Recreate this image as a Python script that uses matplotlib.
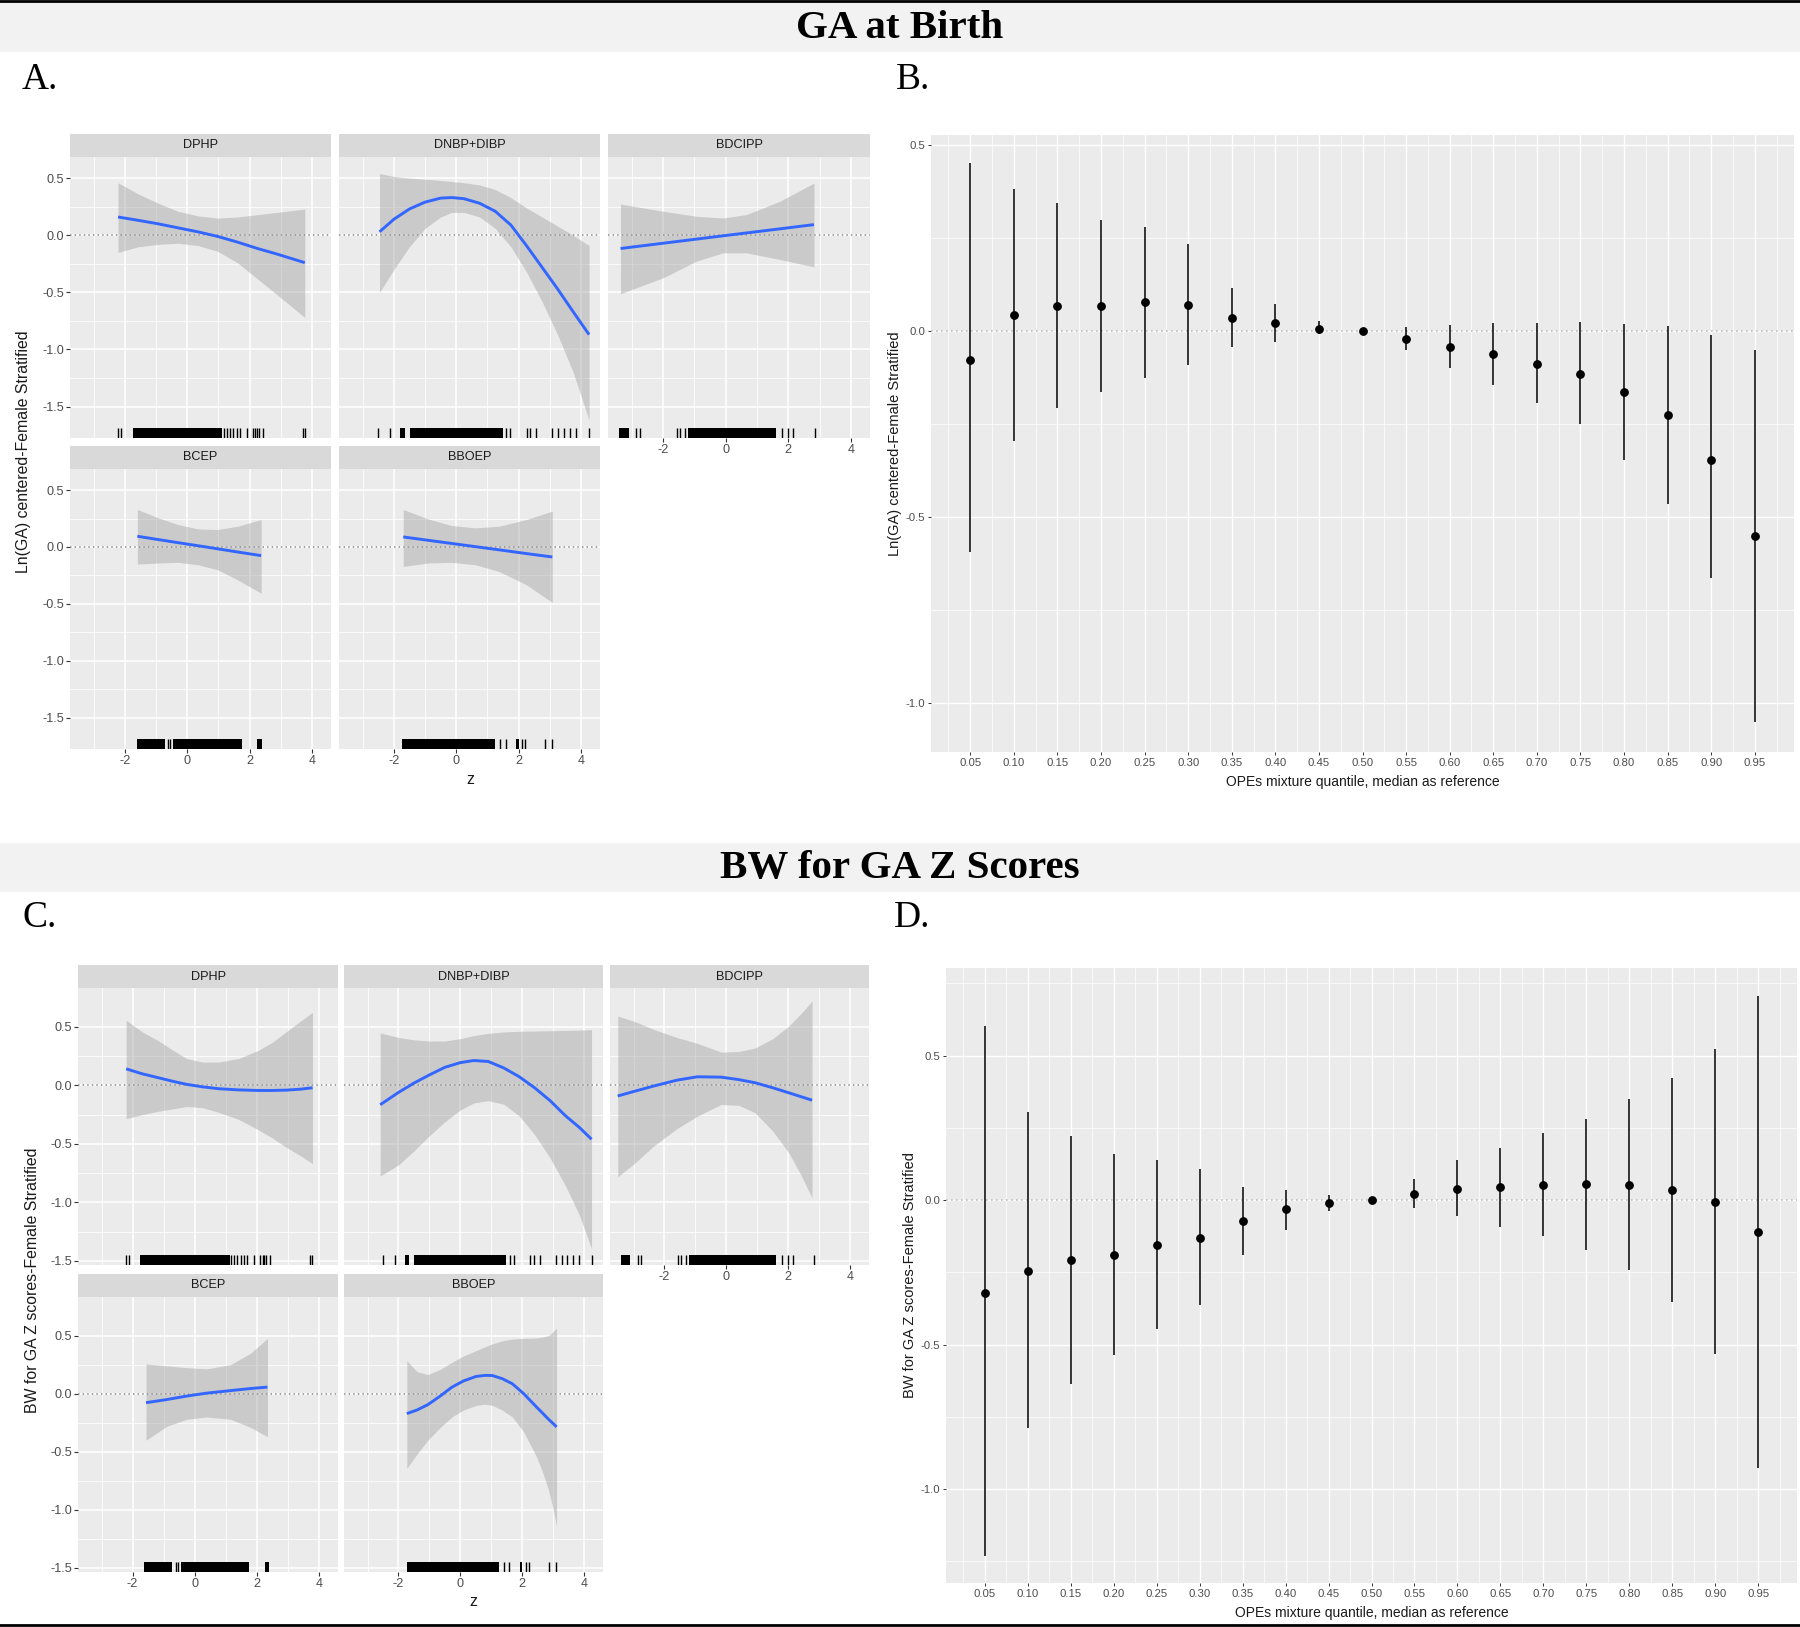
import matplotlib
matplotlib.use("Agg")
import matplotlib.pyplot as plt
from matplotlib.patches import Rectangle
from matplotlib.lines import Line2D
import numpy as np

# ── Data: panel A (GA at birth, univariate exposure-response) ────────────────

A_DPHP_X   = [-2.22, -1.56, -0.93, -0.30, 0.34, 0.97, 1.61, 2.24, 2.88, 3.77]
A_DPHP_FIT = [0.16, 0.13, 0.10, 0.065, 0.03, -0.01, -0.06, -0.115, -0.165, -0.24]
A_DPHP_HI  = [0.46, 0.36, 0.28, 0.21, 0.17, 0.15, 0.16, 0.18, 0.20, 0.23]
A_DPHP_LO  = [-0.15, -0.10, -0.08, -0.07, -0.09, -0.14, -0.24, -0.38, -0.52, -0.72]

A_DNBP_X   = [-2.46, -2.0, -1.5, -1.0, -0.5, -0.15, 0.25, 0.75, 1.25, 1.75,
              2.25, 2.75, 3.25, 3.75, 4.26]
A_DNBP_FIT = [0.03, 0.14, 0.23, 0.29, 0.325, 0.33, 0.32, 0.28, 0.21, 0.09,
              -0.09, -0.28, -0.47, -0.67, -0.87]
A_DNBP_HI  = [0.54, 0.515, 0.50, 0.49, 0.48, 0.47, 0.46, 0.44, 0.40, 0.33,
              0.24, 0.16, 0.08, 0.00, -0.09]
A_DNBP_LO  = [-0.50, -0.30, -0.10, 0.06, 0.16, 0.20, 0.20, 0.16, 0.06, -0.10,
              -0.32, -0.58, -0.87, -1.20, -1.62]

A_BDCIPP_X   = [-3.36, -2.0, -0.94, -0.085, 0.66, 1.73, 2.82]
A_BDCIPP_FIT = [-0.116, -0.07, -0.034, -0.005, 0.02, 0.056, 0.093]
A_BDCIPP_HI  = [0.273, 0.21, 0.166, 0.151, 0.181, 0.297, 0.457]
A_BDCIPP_LO  = [-0.512, -0.373, -0.227, -0.154, -0.154, -0.212, -0.277]

A_BCEP_X   = [-1.60, -0.93, -0.30, 0.34, 0.97, 1.61, 2.37]
A_BCEP_FIT = [0.094, 0.065, 0.038, 0.011, -0.016, -0.044, -0.076]
A_BCEP_HI  = [0.33, 0.256, 0.197, 0.159, 0.153, 0.182, 0.241]
A_BCEP_LO  = [-0.15, -0.141, -0.135, -0.156, -0.20, -0.288, -0.406]

A_BBOEP_X   = [-1.70, -0.91, -0.15, 0.61, 1.37, 2.25, 3.08]
A_BBOEP_FIT = [0.088, 0.059, 0.031, 0.003, -0.025, -0.058, -0.088]
A_BBOEP_HI  = [0.329, 0.247, 0.188, 0.168, 0.182, 0.241, 0.315]
A_BBOEP_LO  = [-0.171, -0.141, -0.135, -0.156, -0.215, -0.332, -0.488]

# ── Data: panel C (BW for GA z scores) ────────────────────────────────────────

C_DPHP_X   = [-2.21, -1.7, -1.16, -0.7, -0.26, 0.25, 0.77, 1.41, 2.05, 2.5,
              2.95, 3.4, 3.79]
C_DPHP_FIT = [0.142, 0.10, 0.065, 0.035, 0.009, -0.012, -0.028, -0.038, -0.043,
              -0.043, -0.04, -0.032, -0.02]
C_DPHP_HI  = [0.557, 0.46, 0.38, 0.30, 0.23, 0.20, 0.20, 0.23, 0.30, 0.37,
              0.46, 0.55, 0.625]
C_DPHP_LO  = [-0.284, -0.25, -0.22, -0.20, -0.18, -0.19, -0.23, -0.29, -0.38,
              -0.45, -0.53, -0.60, -0.668]

C_DNBP_X   = [-2.59, -2.0, -1.5, -1.0, -0.5, 0.0, 0.43, 0.9, 1.4, 1.9, 2.4,
              2.9, 3.4, 3.85, 4.24]
C_DNBP_FIT = [-0.165, -0.06, 0.02, 0.09, 0.155, 0.195, 0.213, 0.205, 0.15,
              0.075, -0.02, -0.13, -0.26, -0.36, -0.46]
C_DNBP_HI  = [0.449, 0.41, 0.39, 0.38, 0.38, 0.40, 0.426, 0.445, 0.457, 0.463,
              0.465, 0.468, 0.47, 0.473, 0.477]
C_DNBP_LO  = [-0.773, -0.68, -0.56, -0.43, -0.31, -0.21, -0.15, -0.13, -0.16,
              -0.26, -0.42, -0.62, -0.86, -1.11, -1.398]

C_BDCIPP_X   = [-3.51, -2.9, -2.36, -1.6, -0.94, -0.17, 0.4, 0.93, 1.5, 2.02,
                2.4, 2.77]
C_BDCIPP_FIT = [-0.09, -0.045, -0.006, 0.045, 0.074, 0.071, 0.05, 0.023, -0.02,
                -0.063, -0.095, -0.126]
C_BDCIPP_HI  = [0.594, 0.54, 0.48, 0.41, 0.36, 0.285, 0.29, 0.32, 0.40, 0.508,
                0.61, 0.722]
C_BDCIPP_LO  = [-0.782, -0.65, -0.52, -0.37, -0.263, -0.163, -0.17, -0.234,
                -0.39, -0.577, -0.76, -0.962]

C_BCEP_X   = [-1.57, -0.90, -0.26, 0.38, 1.15, 1.80, 2.34]
C_BCEP_FIT = [-0.077, -0.05, -0.02, 0.005, 0.027, 0.045, 0.057]
C_BCEP_HI  = [0.257, 0.24, 0.225, 0.214, 0.25, 0.35, 0.477]
C_BCEP_LO  = [-0.40, -0.28, -0.22, -0.20, -0.22, -0.29, -0.37]

C_BBOEP_X   = [-1.73, -1.4, -1.05, -0.65, -0.27, 0.1, 0.51, 0.8, 1.03, 1.35,
               1.68, 2.05, 2.46, 2.65, 2.85, 2.98, 3.11]
C_BBOEP_FIT = [-0.171, -0.14, -0.094, -0.02, 0.057, 0.11, 0.149, 0.158, 0.157,
               0.13, 0.086, 0.0, -0.114, -0.165, -0.22, -0.252, -0.286]
C_BBOEP_HI  = [0.286, 0.19, 0.165, 0.21, 0.271, 0.325, 0.371, 0.405, 0.429,
               0.455, 0.471, 0.477, 0.48, 0.488, 0.50, 0.53, 0.566]
C_BBOEP_LO  = [-0.643, -0.52, -0.40, -0.29, -0.20, -0.14, -0.10, -0.09, -0.10,
               -0.14, -0.20, -0.33, -0.543, -0.67, -0.829, -0.97, -1.143]

# ── Data: rug marks (same exposures in A and C) ──────────────────────────────

DPHP_RUG_TICKS   = [-2.22, -2.12, 1.18, 1.27, 1.36, 1.48, 1.60, 1.68, 1.92,
                    2.11, 2.18, 2.24, 2.30, 2.42, 3.70, 3.78]
DPHP_RUG_BLOCKS  = [(-1.75, 1.12)]
DNBP_RUG_TICKS   = [-2.50, -2.12, 1.60, 1.72, 2.26, 2.38, 2.57, 3.08, 3.27,
                    3.46, 3.65, 3.84, 4.26]
DNBP_RUG_BLOCKS  = [(-1.80, -1.65), (-1.49, 1.49)]
BDCIPP_RUG_TICKS = [-2.85, -2.75, -1.57, -1.47, -1.30, 1.80, 1.98, 2.15, 2.84]
BDCIPP_RUG_BLOCKS = [(-3.40, -3.10), (-1.22, 1.60)]
BCEP_RUG_TICKS   = [-0.62, -0.55]
BCEP_RUG_BLOCKS  = [(-1.62, -0.72), (-0.45, 1.76), (2.25, 2.40)]
BBOEP_RUG_TICKS  = [1.40, 1.58, 2.12, 2.22, 2.85, 3.08]
BBOEP_RUG_BLOCKS = [(-1.74, 1.24), (1.92, 2.00)]

# ── Data: panels B and D (mixture quantile effects) ──────────────────────────

QUANTILES = [0.05, 0.10, 0.15, 0.20, 0.25, 0.30, 0.35, 0.40, 0.45, 0.50,
             0.55, 0.60, 0.65, 0.70, 0.75, 0.80, 0.85, 0.90, 0.95]

B_EST = [-0.078, 0.043, 0.068, 0.068, 0.078, 0.071, 0.036, 0.021, 0.007, 0.0,
         -0.021, -0.042, -0.062, -0.089, -0.114, -0.163, -0.225, -0.345, -0.550]
B_HI  = [0.453, 0.382, 0.344, 0.298, 0.280, 0.235, 0.116, 0.072, 0.028, 0.0,
         0.010, 0.016, 0.021, 0.021, 0.024, 0.019, 0.014, -0.011, -0.052]
B_LO  = [-0.593, -0.296, -0.207, -0.163, -0.127, -0.092, -0.044, -0.029, -0.009, 0.0,
         -0.052, -0.099, -0.146, -0.194, -0.250, -0.347, -0.465, -0.663, -1.050]

D_EST = [-0.320, -0.245, -0.209, -0.191, -0.155, -0.130, -0.073, -0.032, -0.009, 0.0,
         0.022, 0.039, 0.045, 0.052, 0.056, 0.052, 0.034, -0.007, -0.112]
D_HI  = [0.602, 0.306, 0.222, 0.159, 0.138, 0.107, 0.045, 0.036, 0.016, 0.0,
         0.073, 0.137, 0.181, 0.232, 0.281, 0.350, 0.423, 0.523, 0.706]
D_LO  = [-1.231, -0.790, -0.638, -0.536, -0.447, -0.364, -0.190, -0.102, -0.039, 0.0,
         -0.026, -0.056, -0.092, -0.123, -0.172, -0.242, -0.352, -0.531, -0.928]

# ── Style ─────────────────────────────────────────────────────────────────────

plt.rcParams.update({
    "font.family": ["Liberation Sans", "DejaVu Sans"],
    "axes.unicode_minus": False,
})

W, H = 1800, 1627
fig = plt.figure(figsize=(W / 100, H / 100), dpi=100)

PANEL_BG = "#EBEBEB"
STRIP_BG = "#D9D9D9"
TICK_TXT = "#4D4D4D"
TICK_CLR = "#333333"
SERIF = ["Liberation Serif", "DejaVu Serif"]


def box(l, t, r, b):
    return [l / W, 1 - b / H, (r - l) / W, (b - t) / H]


def fx(x):
    return x / W


def fy(y):
    return 1 - y / H


def y_labels(vals):
    return [f"{v:.1f}" for v in vals]


def facet(l, t, r, b, name, x, fit, lo, hi, rug_t, rug_b, ylim,
          show_x, show_y):
    # strip
    fig.add_artist(Rectangle((fx(l), fy(t)), fx(r - l), (23 / H),
                             transform=fig.transFigure, color=STRIP_BG, lw=0))
    fig.text(fx((l + r) / 2), fy(t - 11.5), name, ha="center", va="center",
             fontsize=9.1, color="#1A1A1A")
    ax = fig.add_axes(box(l, t, r, b))
    ax.set_facecolor(PANEL_BG)
    ax.set_xlim(-3.76, 4.61)
    ax.set_ylim(*ylim)
    ax.set_xticks([-2, 0, 2, 4])
    ax.set_xticks([-3, -1, 1, 3], minor=True)
    yt = [0.5, 0.0, -0.5, -1.0, -1.5]
    ax.set_yticks(yt)
    ax.set_yticks([0.25, -0.25, -0.75, -1.25], minor=True)
    ax.grid(which="major", color="white", lw=1.1)
    ax.grid(which="minor", color="white", lw=0.55)
    ax.set_axisbelow(True)
    for s in ax.spines.values():
        s.set_visible(False)
    ax.tick_params(which="minor", length=0)
    ax.tick_params(which="major", length=2.6, width=0.8, color=TICK_CLR,
                   labelcolor=TICK_TXT, labelsize=9.1, pad=1.5)
    if show_x:
        ax.set_xticklabels(["-2", "0", "2", "4"])
    else:
        ax.tick_params(axis="x", length=0, labelbottom=False)
    if show_y:
        ax.set_yticklabels(y_labels(yt))
    else:
        ax.tick_params(axis="y", length=0, labelleft=False)

    ax.axhline(0, color="#8C8C8C", lw=1.1, ls=(0, (1, 2)), zorder=1)
    ax.fill_between(x, lo, hi, color="#999999", alpha=0.4, lw=0, zorder=2)
    ax.plot(x, fit, color="#3366FF", lw=2.1, zorder=3, solid_capstyle="butt",
            solid_joinstyle="round")
    trans = ax.get_xaxis_transform()
    ax.vlines(rug_t, 0, 0.036, transform=trans, color="black", lw=1.0, zorder=4)
    for a, c in rug_b:
        ax.add_patch(Rectangle((a, 0), c - a, 0.036, transform=trans,
                               color="black", lw=0, zorder=4))
    return ax


def quantile_panel(l, t, r, b, est, lo, hi, ylim, yminor, ylabel, ylab_x):
    ax = fig.add_axes(box(l, t, r, b))
    ax.set_facecolor(PANEL_BG)
    ax.set_xlim(0.005, 0.995)
    ax.set_ylim(*ylim)
    ax.set_xticks(QUANTILES)
    ax.set_xticklabels([f"{q:.2f}" for q in QUANTILES])
    ax.set_xticks(np.arange(0.025, 1.0, 0.05), minor=True)
    yt = [0.5, 0.0, -0.5, -1.0]
    ax.set_yticks(yt)
    ax.set_yticklabels(y_labels(yt))
    ax.set_yticks(yminor, minor=True)
    ax.grid(which="major", color="white", lw=1.0)
    ax.grid(which="minor", color="white", lw=0.5)
    ax.set_axisbelow(True)
    for s in ax.spines.values():
        s.set_visible(False)
    ax.tick_params(which="minor", length=0)
    ax.tick_params(which="major", length=2.4, width=0.7, color=TICK_CLR,
                   labelcolor=TICK_TXT, labelsize=8.2, pad=2)
    ax.axhline(0, color="#BEBEBE", lw=1.2, ls=(0, (1, 2)), zorder=1)
    ax.vlines(QUANTILES, lo, hi, color="black", lw=1.1, zorder=3)
    ax.plot(QUANTILES, est, "o", color="black", ms=5.3, zorder=4)
    fig.text(fx(ylab_x), fy((t + b) / 2), ylabel, rotation=90, ha="center",
             va="center", fontsize=10.5, color="#1A1A1A")
    fig.text(fx((l + r) / 2), fy(b + 30), "OPEs mixture quantile, median as reference",
             ha="center", va="center", fontsize=10, color="#1A1A1A")
    return ax


# ── Frame: rules and title banners ───────────────────────────────────────────

fig.add_artist(Line2D([0, 1], [fy(1), fy(1)], transform=fig.transFigure,
                      color="black", lw=2))
fig.add_artist(Line2D([0, 1], [fy(1625), fy(1625)], transform=fig.transFigure,
                      color="black", lw=2))
for top, bot, title in [(3, 52, "GA at Birth"), (843, 892, "BW for GA Z Scores")]:
    fig.add_artist(Rectangle((0, fy(bot)), 1, (bot - top) / H,
                             transform=fig.transFigure, color="#F2F2F2", lw=0))
    fig.text(0.5, fy((top + bot) / 2 + 1), title, ha="center", va="center",
             fontsize=29.5, fontweight="bold", family=SERIF)

for lbl, x, y in [("A.", 22, 80), ("B.", 896, 80), ("C.", 22, 918), ("D.", 894, 918)]:
    fig.text(fx(x), fy(y), lbl, ha="left", va="center", fontsize=27, family=SERIF)

# ── Panel A ──────────────────────────────────────────────────────────────────

YL_A = (-1.775, 0.685)
facet(70, 157, 331, 438, "DPHP", A_DPHP_X, A_DPHP_FIT, A_DPHP_LO, A_DPHP_HI,
      DPHP_RUG_TICKS, DPHP_RUG_BLOCKS, YL_A, False, True)
facet(339, 157, 600, 438, "DNBP+DIBP", A_DNBP_X, A_DNBP_FIT, A_DNBP_LO, A_DNBP_HI,
      DNBP_RUG_TICKS, DNBP_RUG_BLOCKS, YL_A, False, False)
facet(608, 157, 870, 438, "BDCIPP", A_BDCIPP_X, A_BDCIPP_FIT, A_BDCIPP_LO, A_BDCIPP_HI,
      BDCIPP_RUG_TICKS, BDCIPP_RUG_BLOCKS, YL_A, True, False)
facet(70, 469, 331, 749, "BCEP", A_BCEP_X, A_BCEP_FIT, A_BCEP_LO, A_BCEP_HI,
      BCEP_RUG_TICKS, BCEP_RUG_BLOCKS, YL_A, True, True)
facet(339, 469, 600, 749, "BBOEP", A_BBOEP_X, A_BBOEP_FIT, A_BBOEP_LO, A_BBOEP_HI,
      BBOEP_RUG_TICKS, BBOEP_RUG_BLOCKS, YL_A, True, False)
fig.text(fx(24), fy(452), "Ln(GA) centered-Female Stratified", rotation=90,
         ha="center", va="center", fontsize=11.4, color="#1A1A1A")
fig.text(fx(470), fy(779), "z", ha="center", va="center", fontsize=11.4,
         color="#1A1A1A")

# ── Panel B ──────────────────────────────────────────────────────────────────

quantile_panel(931, 135, 1794, 752, B_EST, B_LO, B_HI, (-1.131, 0.527),
               [0.25, -0.25, -0.75], "Ln(GA) centered-Female Stratified", 895)

# ── Panel C ──────────────────────────────────────────────────────────────────

YL_C = (-1.535, 0.833)
facet(78, 988, 338, 1265, "DPHP", C_DPHP_X, C_DPHP_FIT, C_DPHP_LO, C_DPHP_HI,
      DPHP_RUG_TICKS, DPHP_RUG_BLOCKS, YL_C, False, True)
facet(344, 988, 603, 1265, "DNBP+DIBP", C_DNBP_X, C_DNBP_FIT, C_DNBP_LO, C_DNBP_HI,
      DNBP_RUG_TICKS, DNBP_RUG_BLOCKS, YL_C, False, False)
facet(610, 988, 869, 1265, "BDCIPP", C_BDCIPP_X, C_BDCIPP_FIT, C_BDCIPP_LO, C_BDCIPP_HI,
      BDCIPP_RUG_TICKS, BDCIPP_RUG_BLOCKS, YL_C, True, False)
facet(78, 1297, 338, 1572, "BCEP", C_BCEP_X, C_BCEP_FIT, C_BCEP_LO, C_BCEP_HI,
      BCEP_RUG_TICKS, BCEP_RUG_BLOCKS, YL_C, True, True)
facet(344, 1297, 603, 1572, "BBOEP", C_BBOEP_X, C_BBOEP_FIT, C_BBOEP_LO, C_BBOEP_HI,
      BBOEP_RUG_TICKS, BBOEP_RUG_BLOCKS, YL_C, True, False)
fig.text(fx(33), fy(1280), "BW for GA Z scores-Female Stratified", rotation=90,
         ha="center", va="center", fontsize=11.4, color="#1A1A1A")
fig.text(fx(473), fy(1602), "z", ha="center", va="center", fontsize=11.4,
         color="#1A1A1A")

# ── Panel D ──────────────────────────────────────────────────────────────────

quantile_panel(946, 968, 1797, 1583, D_EST, D_LO, D_HI, (-1.325, 0.803),
               [0.75, 0.25, -0.25, -0.75, -1.25],
               "BW for GA Z scores-Female Stratified", 910)

fig.savefig("out.png", dpi=100)
